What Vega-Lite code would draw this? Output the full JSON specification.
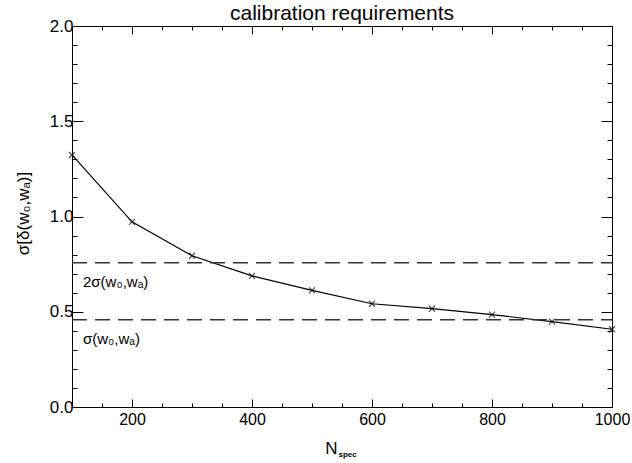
{
  "$schema": "https://vega.github.io/schema/vega-lite/v6.json",
  "width": 540,
  "height": 381,
  "autosize": {"type": "none"},
  "padding": {"left": 72, "top": 26, "right": 20, "bottom": 56},
  "background": "white",
  "title": {"text": "calibration requirements", "fontSize": 21, "fontWeight": "normal", "font": "Liberation Sans", "color": "black", "offset": 8, "dy": 15, "anchor": "middle"},
  "datasets": {
    "main": [
      {"n": 100, "s": 1.323},
      {"n": 200, "s": 0.972},
      {"n": 300, "s": 0.794},
      {"n": 400, "s": 0.688},
      {"n": 500, "s": 0.612},
      {"n": 600, "s": 0.542},
      {"n": 700, "s": 0.516},
      {"n": 800, "s": 0.485},
      {"n": 900, "s": 0.448},
      {"n": 1000, "s": 0.408}
    ],
    "refs": [
      {"level": 0.757, "label": "2σ(w₀,wₐ)"},
      {"level": 0.458, "label": "σ(w₀,wₐ)"}
    ]
  },
  "layer": [
    {
      "data": {"name": "main"},
      "mark": {"type": "line", "color": "black", "strokeWidth": 1.2},
      "encoding": {
        "x": {"field": "n", "type": "quantitative", "scale": {"domain": [100, 1000], "nice": false, "zero": false},
              "axis": {"orient": "bottom", "values": [200, 400, 600, 800, 1000], "format": "d", "tickSize": -8, "labelPadding": 12, "labelFontSize": 16, "title": "N", "titleFontSize": 17, "titleFontWeight": "normal", "titleX": 259, "titleY": 46, "titleAlign": "center", "titleBaseline": "alphabetic"}},
        "y": {"field": "s", "type": "quantitative", "scale": {"domain": [0, 2], "nice": false},
              "axis": {"orient": "left", "values": [0, 0.5, 1, 1.5, 2], "format": ".1f", "tickSize": -11, "labelPadding": 10, "title": "σ[δ(w₀,wₐ)]", "titleFontSize": 17, "titleFontWeight": "normal", "titleAngle": -90, "titleX": -44, "titleY": 187, "titleAlign": "center", "titleBaseline": "alphabetic"}}
      }
    },
    {
      "data": {"name": "main"},
      "mark": {"type": "point", "shape": "M-1,-1L1,1M-1,1L1,-1", "filled": false, "stroke": "black", "strokeWidth": 1.2, "size": 36},
      "encoding": {
        "x": {"field": "n", "type": "quantitative",
              "axis": {"orient": "bottom", "values": [150, 250, 300, 350, 450, 500, 550, 650, 700, 750, 850, 900, 950], "tickSize": -4, "labels": false, "domain": false, "title": "spec", "titleFontSize": 8, "titleFontWeight": "bold", "titleX": 266, "titleY": 49, "titleAlign": "left", "titleBaseline": "alphabetic"}},
        "y": {"field": "s", "type": "quantitative",
              "axis": {"orient": "left", "values": [0.1, 0.2, 0.3, 0.4, 0.6, 0.7, 0.8, 0.9, 1.1, 1.2, 1.3, 1.4, 1.6, 1.7, 1.8, 1.9], "tickSize": -5, "labels": false, "domain": false, "title": null}}
      }
    },
    {
      "data": {"name": "refs"},
      "mark": {"type": "rule", "color": "#333", "strokeWidth": 1.4, "strokeDash": [15, 8]},
      "encoding": {
        "x": {"datum": 100, "type": "quantitative",
              "axis": {"orient": "top", "values": [150, 250, 300, 350, 450, 500, 550, 650, 700, 750, 850, 900, 950], "tickSize": -4, "labels": false, "title": null}},
        "x2": {"datum": 1000},
        "y": {"field": "level", "type": "quantitative",
              "axis": {"orient": "right", "values": [0, 0.5, 1, 1.5, 2], "tickSize": -11, "labels": false, "title": null}}
      }
    },
    {
      "data": {"name": "refs"},
      "mark": {"type": "text", "align": "left", "baseline": "alphabetic", "dx": 11, "dy": 24, "fontSize": 15, "font": "Liberation Sans", "color": "black"},
      "encoding": {
        "x": {"datum": 100, "type": "quantitative",
              "axis": {"orient": "top", "values": [200, 400, 600, 800, 1000], "tickSize": -8, "labels": false, "title": null}},
        "y": {"field": "level", "type": "quantitative",
              "axis": {"orient": "right", "values": [0.1, 0.2, 0.3, 0.4, 0.6, 0.7, 0.8, 0.9, 1.1, 1.2, 1.3, 1.4, 1.6, 1.7, 1.8, 1.9], "tickSize": -5, "labels": false, "domain": false, "title": null}},
        "text": {"field": "label"}
      }
    }
  ],
  "resolve": {"axis": {"x": "independent", "y": "independent"}},
  "config": {
    "font": "Liberation Sans",
    "view": {"stroke": "black", "strokeWidth": 1},
    "axis": {"grid": false, "domainColor": "black", "tickColor": "black", "labelColor": "black", "titleColor": "black", "labelFontSize": 17, "labelFont": "Liberation Sans", "titleFont": "Liberation Sans", "domainWidth": 1, "tickWidth": 1, "labelFlush": false, "labelOverlap": false}
  }
}
